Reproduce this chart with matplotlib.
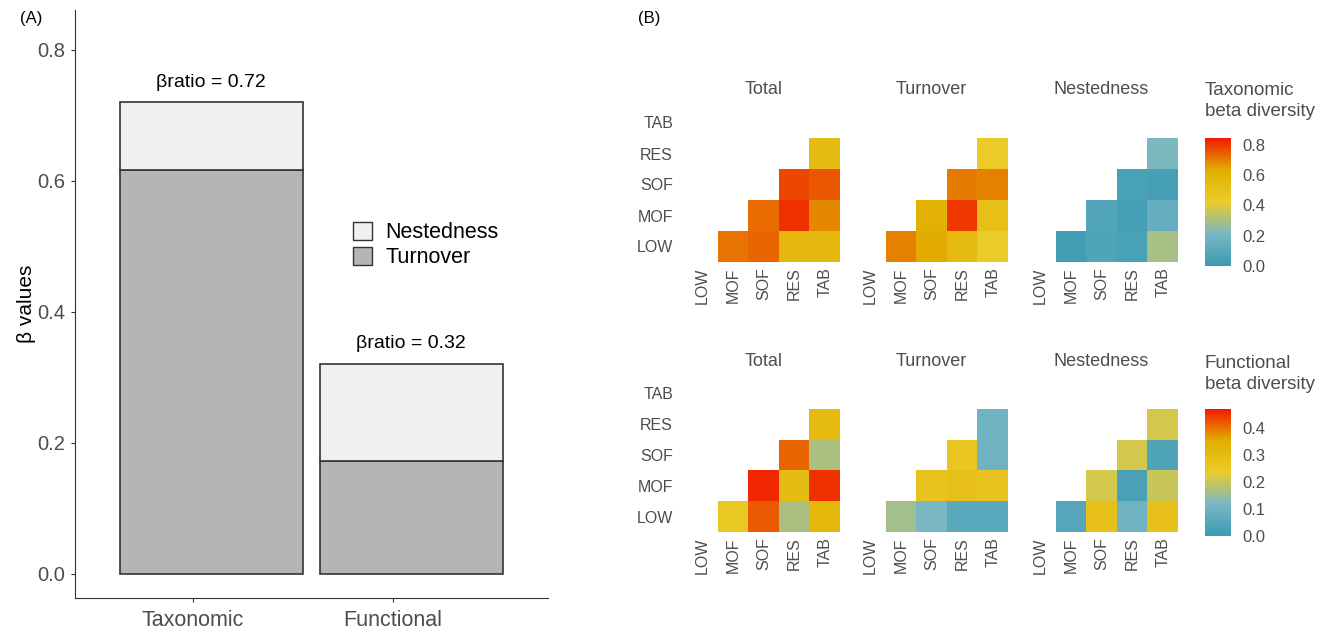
import numpy as np
import matplotlib
matplotlib.use('Agg')
import matplotlib.pyplot as plt
from matplotlib.colors import LinearSegmentedColormap, Normalize
from matplotlib.patches import Patch

plt.rcParams['font.family'] = ['Liberation Sans', 'DejaVu Sans']

W, H = 1330, 633

def box(l, t, r, b):
    # pixel box -> figure fraction
    return [l / W, 1 - b / H, (r - l) / W, (b - t) / H]

# ---- panel A data
groups = ['Taxonomic', 'Functional']
turnover = [0.617, 0.172]
nestedness = [0.103, 0.148]
ratio_labels = ['βratio = 0.72', 'βratio = 0.32']

# ---- panel B data
sites = ['LOW', 'MOF', 'SOF', 'RES', 'TAB']
components = ['Total', 'Turnover', 'Nestedness']
# upper triangle by row: LOW-(MOF,SOF,RES,TAB), MOF-(SOF,RES,TAB), SOF-(RES,TAB), RES-TAB
tax_total = [0.72, 0.74, 0.57, 0.57, 0.73, 0.81, 0.69, 0.78, 0.76, 0.54]
tax_turn = [0.70, 0.64, 0.55, 0.43, 0.62, 0.80, 0.52, 0.71, 0.70, 0.43]
tax_nest = [0.02, 0.07, 0.05, 0.30, 0.08, 0.03, 0.15, 0.05, 0.04, 0.22]
fun_total = [0.25, 0.42, 0.17, 0.32, 0.46, 0.30, 0.45, 0.41, 0.17, 0.31]
fun_turn = [0.16, 0.12, 0.06, 0.06, 0.27, 0.28, 0.27, 0.26, 0.10, 0.10]
fun_nest = [0.05, 0.28, 0.10, 0.28, 0.21, 0.03, 0.20, 0.21, 0.04, 0.21]
tax_max = 0.846
fun_max = 0.47

zissou = ['#3B9AB2', '#78B7C5', '#EBCC2A', '#E1AF00', '#F21A00']
cmap = LinearSegmentedColormap.from_list('zissou', zissou)

grey_txt = '#4d4d4d'

def to_matrix(vals):
    m = np.full((5, 5), np.nan)
    k = 0
    for i in range(5):
        for j in range(i + 1, 5):
            m[i, j] = vals[k]
            k += 1
    return m

fig = plt.figure(figsize=(13.3, 6.33), dpi=100)

# ---------- (A)
ax = fig.add_axes(box(75, 10, 548, 598))
x = np.arange(1, 3)
ax.bar(x, turnover, width=0.915, color='#b5b5b5', edgecolor='#333333', lw=1.2)
ax.bar(x, nestedness, bottom=turnover, width=0.915, color='#f0f0f0',
       edgecolor='#333333', lw=1.2)
for xi, t, n, lab in zip(x, turnover, nestedness, ratio_labels):
    ax.text(xi, t + n + 0.018, lab, ha='center', va='bottom', fontsize=14)
ax.set_xlim(0.32, 2.685)
ax.set_ylim(-0.037, 0.861)
# tick marks sit a little left of the bar centres in the original
ax.set_xticks(x - 0.09)
ax.set_xticklabels(groups)
ax.set_yticks([0, 0.2, 0.4, 0.6, 0.8])
ax.set_yticklabels(['0.0', '0.2', '0.4', '0.6', '0.8'])
ax.tick_params(labelcolor=grey_txt, color='#333333', length=3)
ax.tick_params(axis='x', labelsize=15.5, pad=6)
ax.tick_params(axis='y', labelsize=14.5, pad=4)
for s in ['top', 'right']:
    ax.spines[s].set_visible(False)
for s in ['left', 'bottom']:
    ax.spines[s].set_color('#333333')
ax.set_ylabel('β values', fontsize=15)
ax.yaxis.set_label_coords(-0.083, 0.5)
fig.legend(handles=[Patch(facecolor='#f0f0f0', edgecolor='#333333', label='Nestedness'),
                    Patch(facecolor='#b5b5b5', edgecolor='#333333', label='Turnover')],
           loc='upper left', bbox_to_anchor=(353 / W, 1 - 222 / H), frameon=False,
           fontsize=15.5, handlelength=0.9, handleheight=0.9, labelspacing=0.17,
           handletextpad=0.6, borderpad=0, borderaxespad=0)

fig.text(20 / W, 1 - 18 / H, '(A)', fontsize=12, va='center')
fig.text(638 / W, 1 - 18 / H, '(B)', fontsize=12, va='center')

# ---------- (B)
rows = [
    (107, 262, [tax_total, tax_turn, tax_nest], tax_max, 'Taxonomic\nbeta diversity',
     [0, 0.2, 0.4, 0.6, 0.8], 101),
    (378, 532, [fun_total, fun_turn, fun_nest], fun_max, 'Functional\nbeta diversity',
     [0, 0.1, 0.2, 0.3, 0.4], 374),
]
lefts = [687, 855, 1025]
for top, bottom, sets, vmax, ctitle, cticks, ty in rows:
    norm = Normalize(0, vmax)
    for k, (vals, comp) in enumerate(zip(sets, components)):
        hax = fig.add_axes(box(lefts[k], top, lefts[k] + 153, bottom))
        m = np.ma.masked_invalid(to_matrix(vals))
        mesh = hax.pcolormesh(np.arange(6), np.arange(6), m, cmap=cmap, norm=norm)
        hax.set_xlim(0, 5)
        hax.set_ylim(0, 5)
        hax.set_xticks(np.arange(5) + 0.5)
        hax.set_xticklabels(sites, rotation=90, fontsize=11.5, color=grey_txt)
        hax.set_yticks(np.arange(5) + 0.5)
        if k == 0:
            hax.set_yticklabels(sites, fontsize=11.5, color=grey_txt)
        else:
            hax.set_yticklabels([])
        hax.tick_params(axis='x', length=0, pad=4)
        hax.tick_params(axis='y', length=0, pad=10)
        for s in hax.spines.values():
            s.set_visible(False)
        hax.text(2.5, 5.55, comp, ha='center', va='center', fontsize=13, color=grey_txt)
    cax = fig.add_axes(box(1205, top + 31, 1231, bottom + 4))
    cb = fig.colorbar(mesh, cax=cax)
    cb.outline.set_visible(False)
    cb.set_ticks(cticks)
    cb.set_ticklabels(['%.1f' % t for t in cticks])
    cax.tick_params(length=0, labelsize=12, labelcolor=grey_txt, pad=8)
    fig.text(1205 / W, 1 - ty / H, ctitle, fontsize=13.5, color=grey_txt,
             va='center', ha='left', linespacing=1.25)

fig.savefig('out.png', dpi=100)
